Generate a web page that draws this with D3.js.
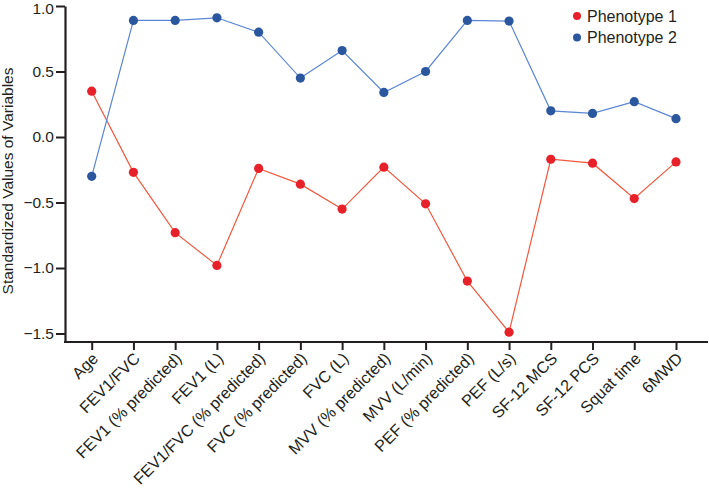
<!DOCTYPE html>
<html><head><meta charset="utf-8">
<script src="https://cdn.jsdelivr.net/npm/d3@7"></script>
<style>
body{margin:0;background:#fff;}
text{font-family:"Liberation Sans",Arial,sans-serif;fill:#231f20;}
</style></head>
<body><svg id="c" width="709" height="488"></svg>
<script>
const categories = ["Age","FEV1/FVC","FEV1 (% predicted)","FEV1 (L)","FEV1/FVC (% predicted)","FVC (% predicted)","FVC (L)","MVV (% predicted)","MVV (L/min)","PEF (% predicted)","PEF (L/s)","SF-12 MCS","SF-12 PCS","Squat time","6MWD"];
const phenotype1 = [0.35,-0.27,-0.73,-0.98,-0.24,-0.36,-0.55,-0.23,-0.51,-1.10,-1.49,-0.17,-0.20,-0.47,-0.19];
const phenotype2 = [-0.30,0.89,0.89,0.91,0.80,0.45,0.66,0.34,0.50,0.89,0.885,0.20,0.18,0.27,0.14];
const yTicks = [1.0,0.5,0.0,-0.5,-1.0,-1.5];
const seriesNames = ["Phenotype 1","Phenotype 2"];

const svg = d3.select("#c");
const axisX0 = 65, axisX1 = 708, axisY = 342;
const y = d3.scaleLinear().domain([-1.5,1]).range([333.5,6]);
const yBottom = y.invert(axisY);
const yAxisScale = d3.scaleLinear().domain([yBottom,1]).range([axisY,6]);
const x = d3.scalePoint().domain(categories).range([91.7,676]);

const ink = "#231f20";
// y axis
const gy = svg.append("g").attr("transform",`translate(${axisX0},0)`)
  .call(d3.axisLeft(yAxisScale).tickValues(yTicks).tickFormat(d3.format(".1f")).tickSize(9).tickSizeOuter(0).tickPadding(2));
gy.select(".domain").attr("stroke",ink).attr("stroke-width",2.2);
gy.selectAll(".tick line").attr("stroke",ink).attr("stroke-width",2);
gy.selectAll(".tick text").style("font-size","15.5px").attr("fill",ink)
  .attr("y",d=>d===1 ? 2.5 : 0);

// x axis
const gx = svg.append("g").attr("transform",`translate(0,${axisY})`)
  .call(d3.axisBottom(x).tickSize(8).tickSizeOuter(0));
gx.select(".domain").attr("d",`M${axisX0-1},0H${axisX1}`).attr("stroke",ink).attr("stroke-width",2.2);
gx.selectAll(".tick line").attr("stroke",ink).attr("stroke-width",2);
gx.selectAll(".tick text").style("font-size","16.2px").attr("fill",ink)
  .attr("text-anchor","end").attr("x",0).attr("y",0).attr("dy","0.35em")
  .attr("transform","translate(3,13.5) rotate(-45)");

// y title
svg.append("text").attr("transform","translate(13,181) rotate(-90)")
  .attr("text-anchor","middle").style("font-size","15.5px").text("Standardized Values of Variables");

const line = d3.line().x((d,i)=>x(categories[i])).y(d=>y(d));
const series = [
  {vals:phenotype1, line:"#f2583e", dot:"#e6212a"},
  {vals:phenotype2, line:"#5b86d3", dot:"#2a579e"}
];
series.forEach(s=>{
  svg.append("path").datum(s.vals).attr("d",line).attr("fill","none")
    .attr("stroke",s.line).attr("stroke-width",1.2);
});
series.forEach(s=>{
  svg.append("g").selectAll("circle").data(s.vals).join("circle")
    .attr("cx",(d,i)=>x(categories[i])).attr("cy",d=>y(d)).attr("r",4.6).attr("fill",s.dot);
});

// legend
const lg = svg.append("g");
seriesNames.forEach((n,i)=>{
  lg.append("circle").attr("cx",577).attr("cy",16+i*21.5).attr("r",4).attr("fill",series[i].dot);
  lg.append("text").attr("x",587).attr("y",16+i*21.5).attr("dy","0.36em").style("font-size","16px").text(n);
});
</script></body></html>
